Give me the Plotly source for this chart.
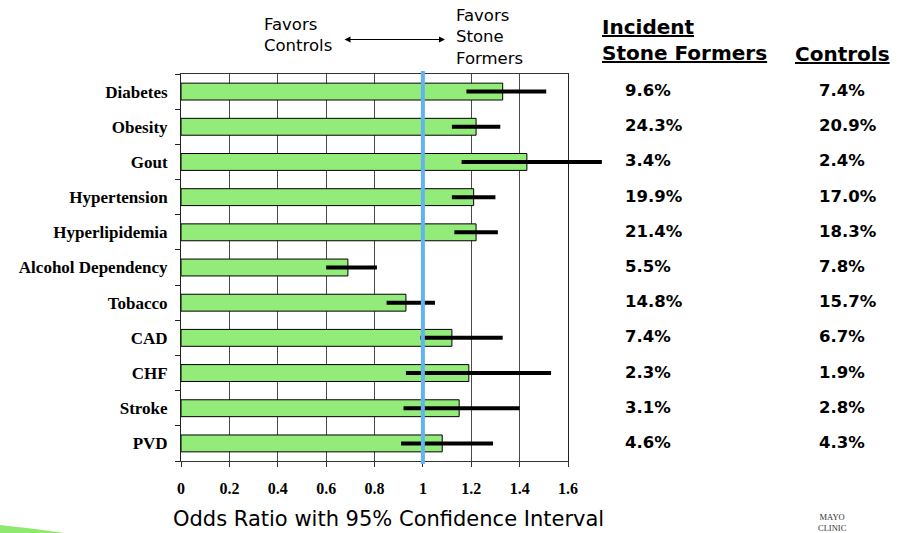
import plotly.graph_objects as go

# ---------------- data ----------------
categories = ["Diabetes", "Obesity", "Gout", "Hypertension", "Hyperlipidemia",
              "Alcohol Dependency", "Tobacco", "CAD", "CHF", "Stroke", "PVD"]
odds_ratio = [1.33, 1.22, 1.43, 1.21, 1.22, 0.69, 0.93, 1.12, 1.19, 1.15, 1.08]
ci_low     = [1.18, 1.12, 1.16, 1.12, 1.13, 0.60, 0.85, 0.99, 0.93, 0.92, 0.91]
ci_high    = [1.51, 1.32, 1.74, 1.30, 1.31, 0.81, 1.05, 1.33, 1.53, 1.40, 1.29]
pct_stone_formers = ["9.6%", "24.3%", "3.4%", "19.9%", "21.4%", "5.5%",
                     "14.8%", "7.4%", "2.3%", "3.1%", "4.6%"]
pct_controls = ["7.4%", "20.9%", "2.4%", "17.0%", "18.3%", "7.8%",
                "15.7%", "6.7%", "1.9%", "2.8%", "4.3%"]
x_tick_values = [0, 0.2, 0.4, 0.6, 0.8, 1.0, 1.2, 1.4, 1.6]
x_tick_labels = ["0", "0.2", "0.4", "0.6", "0.8", "1", "1.2", "1.4", "1.6"]
x_max = 1.6
reference_or = 1.0

# ---------------- layout geometry ----------------
FIG_W, FIG_H = 897, 533
L, T, B = 181, 74, 72
MAIN_RIGHT = 568          # right edge of the visible chart box
FULL_RIGHT = 620          # right edge of the (invisible) CI overlay subplot
R = FIG_W - FULL_RIGHT
PW = FULL_RIGHT - L
PH = FIG_H - T - B
main_frac = (MAIN_RIGHT - L) / PW


def px(xpix):
    return (xpix - L) / PW


def py(ypix):
    return (FIG_H - B - ypix) / PH


SANS = "DejaVu Sans"
SERIF = "Liberation Serif"

err_plus = [h - o for h, o in zip(ci_high, odds_ratio)]
err_minus = [o - l for o, l in zip(odds_ratio, ci_low)]
cat_range = [-0.5, len(categories) - 0.5]

fig = go.Figure()
fig.add_trace(go.Bar(
    y=categories, x=odds_ratio, orientation="h", width=0.48,
    marker=dict(color="#93EB7A", line=dict(color="black", width=1)),
    hoverinfo="skip", xaxis="x", yaxis="y",
))
# confidence intervals on an overlay subplot with the same scale, so the
# Gout interval can run past the 1.6 frame like in the original slide
fig.add_trace(go.Scatter(
    y=categories, x=odds_ratio, mode="markers",
    marker=dict(size=1, color="rgba(0,0,0,0)"),
    error_x=dict(type="data", symmetric=False, array=err_plus,
                 arrayminus=err_minus, color="black", thickness=4, width=0),
    cliponaxis=False, hoverinfo="skip", xaxis="x2", yaxis="y2",
))

# reference line at OR = 1
fig.add_shape(type="line", xref="x2", yref="paper", x0=reference_or, x1=reference_or,
              y0=-0.008, y1=1.008, line=dict(color="#64B2EE", width=4), layer="above")

# green swoosh decoration bottom-left
fig.add_shape(type="path", xref="paper", yref="paper",
              path=f"M {px(0)},{py(525)} Q {px(30)},{py(528)} {px(64)},{py(533)} L {px(0)},{py(533)} Z",
              fillcolor="#8FE86F", line=dict(width=0), layer="above")

ann = []
# percentages columns
for cat, s, c in zip(categories, pct_stone_formers, pct_controls):
    ann.append(dict(x=px(623), y=cat, xref="paper", yref="y", text=f"<b>{s}</b>",
                    xanchor="left", yanchor="middle", showarrow=False, yshift=1,
                    font=dict(family=SANS, size=16.5, color="black")))
    ann.append(dict(x=px(817), y=cat, xref="paper", yref="y", text=f"<b>{c}</b>",
                    xanchor="left", yanchor="middle", showarrow=False, yshift=1,
                    font=dict(family=SANS, size=16.5, color="black")))

# column headers
ann.append(dict(x=px(600), y=py(40), xref="paper", yref="paper",
                text="<b><u>Incident</u></b><br><b><u>Stone Formers</u></b>",
                xanchor="left", yanchor="middle", align="left", showarrow=False,
                font=dict(family=SANS, size=20, color="black")))
ann.append(dict(x=px(793), y=py(54), xref="paper", yref="paper",
                text="<b><u>Controls</u></b>",
                xanchor="left", yanchor="middle", align="left", showarrow=False,
                font=dict(family=SANS, size=20, color="black")))

# favors annotations
ann.append(dict(x=px(262), y=py(35), xref="paper", yref="paper",
                text="Favors<br>Controls", xanchor="left", yanchor="middle",
                align="left", showarrow=False,
                font=dict(family=SANS, size=16.5, color="black")))
ann.append(dict(x=px(454), y=py(37), xref="paper", yref="paper",
                text="Favors<br>Stone<br>Formers", xanchor="left", yanchor="middle",
                align="left", showarrow=False,
                font=dict(family=SANS, size=16.5, color="black")))
ann.append(dict(x=px(445), y=py(39.5), xref="paper", yref="paper", text="",
                showarrow=True, ax=-102, ay=0, arrowside="end+start",
                arrowhead=2, arrowsize=1, arrowwidth=1.2, arrowcolor="black"))

# axis title
ann.append(dict(x=px(388), y=py(519), xref="paper", yref="paper",
                text="Odds Ratio with 95% Confidence Interval",
                xanchor="center", yanchor="middle", showarrow=False,
                font=dict(family=SANS, size=21, color="black")))

# logo text
ann.append(dict(x=px(832), y=py(522), xref="paper", yref="paper",
                text="MAYO<br>CLINIC", xanchor="center", yanchor="middle",
                showarrow=False,
                font=dict(family=SERIF, size=8.5, color="#333333")))

fig.update_layout(
    width=FIG_W, height=FIG_H,
    margin=dict(l=L, r=R, t=T, b=B, pad=0),
    paper_bgcolor="white", plot_bgcolor="rgba(0,0,0,0)",
    showlegend=False, annotations=ann,
    font=dict(family=SERIF, color="black"),
    xaxis=dict(
        domain=[0, main_frac], anchor="y",
        range=[0, x_max], tickvals=x_tick_values, ticktext=x_tick_labels,
        showgrid=True, gridcolor="#4a4a4a", gridwidth=1, zeroline=False,
        showline=True, linecolor="#333333", linewidth=1, mirror=True,
        ticks="outside", ticklen=5, tickcolor="#333333", ticklabelstandoff=8,
        tickfont=dict(family=SERIF, size=16, color="black", weight="bold"),
    ),
    yaxis=dict(
        domain=[0, 1], anchor="x",
        categoryorder="array", categoryarray=categories[::-1], range=cat_range,
        showgrid=False, zeroline=False,
        showline=True, linecolor="#222222", linewidth=1, mirror=True,
        ticks="outside", ticklen=5, tickcolor="#222222", tickson="boundaries",
        ticklabelstandoff=9,
        tickfont=dict(family=SERIF, size=17, color="black", weight="bold"),
    ),
    xaxis2=dict(
        domain=[0, 1], anchor="y2", range=[0, x_max / main_frac],
        visible=False, showgrid=False, zeroline=False,
    ),
    yaxis2=dict(
        domain=[0, 1], anchor="x2",
        categoryorder="array", categoryarray=categories[::-1], range=cat_range,
        visible=False, showgrid=False, zeroline=False,
    ),
)

fig.write_html(
    "out.html",
    config={"displayModeBar": False},
    post_script="document.body.style.margin='0';document.body.style.padding='0';"
                "document.documentElement.style.overflow='hidden';",
)
